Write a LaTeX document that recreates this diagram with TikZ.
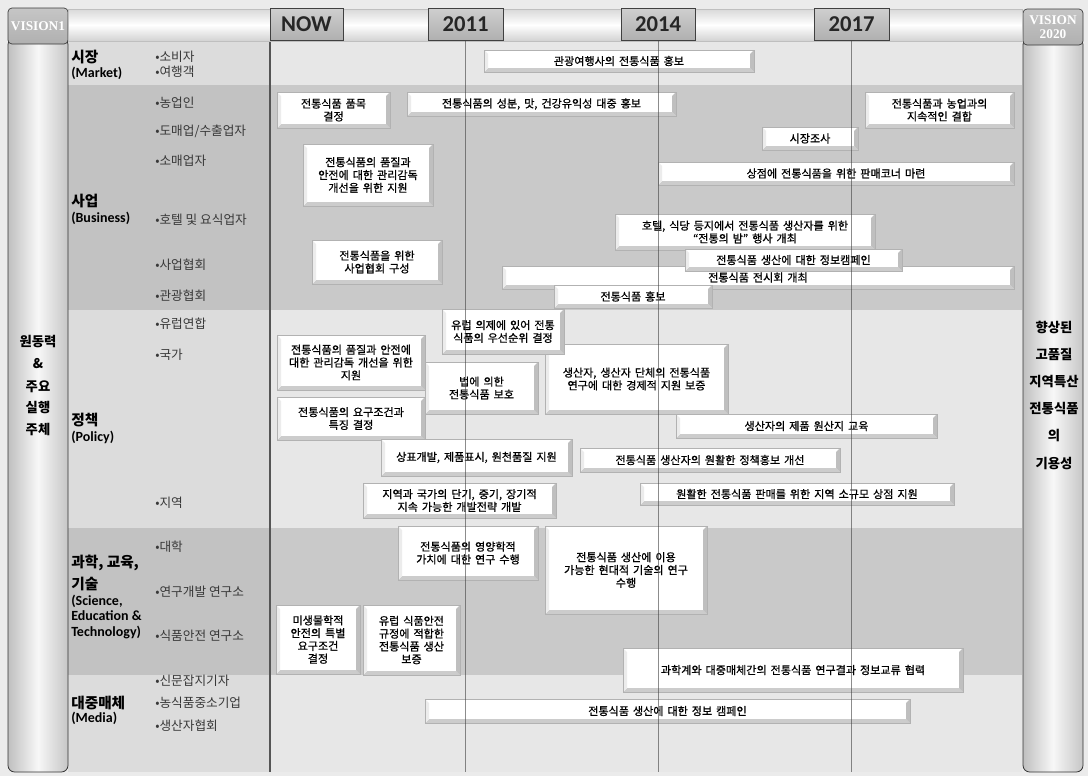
\documentclass[tikz,border=0pt]{standalone}
\usepackage{fontspec}
\setmainfont{Noto Sans CJK KR}
\newfontfamily\kr{Noto Sans CJK KR}
\newfontfamily\krb[FakeBold=0.9,WordSpace=1.6]{Noto Sans CJK KR}
\newfontfamily\en{Carlito}
\newfontfamily\vs{Liberation Serif}
\usetikzlibrary{calc}
\definecolor{canvas}{HTML}{EBEBEB}
\definecolor{lchart}{HTML}{E7E7E7}
\definecolor{lcat}{HTML}{DCDCDC}
\definecolor{dchart}{HTML}{C9C9C9}
\definecolor{dcat}{HTML}{C2C2C2}
\definecolor{edge}{HTML}{555555}
\newcommand\bx[6]{\node[box, minimum width={(#4-#2)*0.75pt}, minimum height={(#5-#3)*0.75pt}] (#1) at ({(#2+#4)/2},{(#3+#5)/2}) {#6};}
\newcommand\yr[6]{\node[yearbox, minimum width={(#4-#2)*0.75pt}, minimum height={(#5-#3)*0.75pt}] (#1) at ({(#2+#4)/2},{(#3+#5)/2}) {#6};}
\begin{document}
\begin{tikzpicture}[x=0.75pt,y=-0.75pt,
  box/.style={draw=gray!60, line width=0.6pt, fill=white, inner sep=0pt, align=center,
    font=\krb\fontsize{8.3}{9.6}\selectfont, text=black,
    path picture={
      \fill[gray!40] (path picture bounding box.south west) -- (path picture bounding box.south east)
        -- ([shift={(-3pt,3pt)}]path picture bounding box.south east) -- ([shift={(3pt,3pt)}]path picture bounding box.south west) -- cycle;
      \fill[gray!50] (path picture bounding box.south east) -- (path picture bounding box.north east)
        -- ([shift={(-3pt,-3pt)}]path picture bounding box.north east) -- ([shift={(-3pt,3pt)}]path picture bounding box.south east) -- cycle;
      \fill[gray!15] (path picture bounding box.south west) -- (path picture bounding box.north west)
        -- ([shift={(3pt,-3pt)}]path picture bounding box.north west) -- ([shift={(3pt,3pt)}]path picture bounding box.south west) -- cycle;
    }},
  yearbox/.style={draw=gray!50!black, line width=0.5pt, top color=gray!38, bottom color=gray!62, inner sep=0pt,
    font=\en\bfseries\fontsize{17}{17}\selectfont, text=black!85},
  vishead/.style={draw=gray!45!black, line width=0.5pt, top color=gray!45, bottom color=gray!62, rounded corners=3pt,
    inner sep=0pt, align=center, font=\vs\bfseries\fontsize{10}{11}\selectfont, text=white},
  bul/.style={font=\kr\fontsize{9.5}{10}\selectfont, text=black!78, inner sep=0pt, anchor=west},
  catk/.style={font=\kr\bfseries\fontsize{11}{12}\selectfont, text=black, inner sep=0pt, anchor=west},
  cate/.style={font=\en\bfseries\fontsize{10.5}{12}\selectfont, text=black, inner sep=0pt, anchor=west},
  side/.style={font=\kr\bfseries\fontsize{10}{11}\selectfont, text=black, inner sep=0pt},
  tline/.style={draw=black!75, line width=0.6pt, draw opacity=0.6},
  bar/.style={left color=gray!50, right color=gray!45, middle color=gray!6, draw=gray!40!black, line width=0.6pt, rounded corners=5pt}
]
\useasboundingbox (0,0) rectangle (1088,776);
\fill[canvas] (0,0) rectangle (1088,776);
% bands
\fill[lchart] (270,42) rectangle (1022,85);
\fill[lcat] (68,42) rectangle (270,85);
\fill[dchart] (270,85) rectangle (1022,310);
\fill[dcat] (68,85) rectangle (270,310);
\fill[lchart] (270,310) rectangle (1022,528);
\fill[lcat] (68,310) rectangle (270,528);
\fill[dchart] (270,528) rectangle (1022,675);
\fill[dcat] (68,528) rectangle (270,675);
\fill[lchart] (270,675) rectangle (1022,772);
\fill[lcat] (68,675) rectangle (270,772);
\draw[edge, line width=0.8pt] (270,41) -- (270,772);
% side bars
\path[bar] (8,38) rectangle (68,772);
\path[bar] (1023,38) rectangle (1083,772);
\node[vishead, minimum width=45pt, minimum height=27pt] (v1) at (38,26) {VISION1};
\node[vishead, minimum width=45pt, minimum height=27pt] (v2) at (1053,27) {VISION\\2020};
% top bar
\shade[top color=gray!30, bottom color=gray!35, middle color=white, draw=gray!50, line width=0.4pt] (68,9) rectangle (1022,41);
\yr{ynow}{270}{8}{343}{40}{NOW}
\yr{y2011}{428}{8}{503}{40}{2011}
\yr{y2014}{621}{8}{695}{40}{2014}
\yr{y2017}{814}{8}{889}{40}{2017}
\coordinate (bot) at (0,772);
% side texts
\node[side] (s1) at (38,342) {원동력};
\node[side] (s2) at (38,364) {\&};
\node[side] (s3) at (38,387) {주요};
\node[side] (s4) at (38,408) {실행};
\node[side] (s5) at (38,430) {주체};
\node[side] (r1) at (1054,327) {향상된};
\node[side] (r2) at (1054,354) {고품질};
\node[side] (r3) at (1054,382) {지역특산};
\node[side] (r4) at (1054,409) {전통식품};
\node[side] (r5) at (1054,436) {의};
\node[side] (r6) at (1054,464) {기용성};
% categories
\node[catk] (k1) at (71,57) {시장};
\node[cate] (e1) at (71,73) {(Market)};
\node[catk] (k2) at (71,201) {사업};
\node[cate] (e2) at (71,218) {(Business)};
\node[catk] (k3) at (71,420) {정책};
\node[cate] (e3) at (71,437) {(Policy)};
\node[catk] (k4) at (71,563) {과학, 교육,};
\node[catk] (k4b) at (71,584) {기술};
\node[cate] (e4a) at (71,601) {(Science,};
\node[cate] (e4b) at (71,616) {Education \&};
\node[cate] (e4c) at (71,632) {Technology)};
\node[catk] (k5) at (71,703) {대중매체};
\node[cate] (e5) at (71,718) {(Media)};
% bullets
\node[bul] (b1) at (155,57) {•소비자};
\node[bul] (b2) at (155,72) {•여행객};
\node[bul] (b3) at (155,103) {•농업인};
\node[bul] (b4) at (155,131) {•도매업/수출업자};
\node[bul] (b5) at (155,161) {•소매업자};
\node[bul] (b6) at (155,220) {•호텔 및 요식업자};
\node[bul] (b7) at (155,265) {•사업협회};
\node[bul] (b8) at (155,296) {•관광협회};
\node[bul] (b9) at (155,324) {•유럽연합};
\node[bul] (b10) at (155,355) {•국가};
\node[bul] (b11) at (155,503) {•지역};
\node[bul] (b12) at (155,547) {•대학};
\node[bul] (b13) at (155,592) {•연구개발 연구소};
\node[bul] (b14) at (155,636) {•식품안전 연구소};
\node[bul] (b15) at (155,681) {•신문잡지기자};
\node[bul] (b16) at (155,703) {•농식품중소기업};
\node[bul] (b17) at (155,726) {•생산자협회};
% boxes
\bx{a1}{484}{50}{754}{72}{관광여행사의 전통식품 홍보}
\bx{a2}{277}{92}{390}{128}{전통식품 품목\\결정}
\bx{a3}{407}{92}{676}{116}{전통식품의 성분, 맛, 건강유익성 대중 홍보}
\bx{a4}{865}{92}{1014}{128}{전통식품과 농업과의\\지속적인 결합}
\bx{a5}{762}{127}{858}{150}{시장조사}
\bx{a6}{303}{144}{433}{206}{전통식품의 품질과\\안전에 대한 관리감독\\개선을 위한 지원}
\bx{a7}{658}{162}{1014}{185}{상점에 전통식품을 위한 판매코너 마련}
\bx{a8}{615}{214}{875}{250}{호텔, 식당 등지에서 전통식품 생산자를 위한\\“전통의 밤” 행사 개최}
\bx{a9}{312}{240}{442}{284}{전통식품을 위한\\사업협회 구성}
\bx{a11}{502}{266}{1014}{289}{전통식품 전시회 개최}
\bx{a10}{685}{249}{902}{271}{전통식품 생산에 대한 정보캠페인}
\bx{a12}{554}{285}{712}{308}{전통식품 홍보}
\bx{a16}{545}{344}{728}{414}{생산자, 생산자 단체의 전통식품\\연구에 대한 경제적 지원 보증}
\bx{a13}{442}{309}{564}{354}{유럽 의제에 있어 전통\\식품의 우선순위 결정}
\bx{a14}{277}{335}{425}{390}{전통식품의 품질과 안전에\\대한 관리감독 개선을 위한\\지원}
\bx{a15}{425}{362}{538}{414}{법에 의한\\전통식품 보호}
\bx{a17}{277}{397}{425}{440}{전통식품의 요구조건과\\특징 결정}
\bx{a18}{676}{414}{937}{438}{생산자의 제품 원산지 교육}
\bx{a19}{381}{439}{572}{476}{상표개발, 제품표시, 원천품질 지원}
\bx{a20}{580}{448}{840}{472}{전통식품 생산자의 원활한 정책홍보 개선}
\bx{a21}{363}{483}{556}{518}{지역과 국가의 단기, 중기, 장기적\\지속 가능한 개발전략 개발}
\bx{a22}{640}{483}{954}{505}{원활한 전통식품 판매를 위한 지역 소규모 상점 지원}
\bx{a23}{398}{526}{538}{580}{전통식품의 영양학적\\가치에 대한 연구 수행}
\bx{a24}{545}{526}{707}{614}{전통식품 생산에 이용\\가능한 현대적 기술의 연구\\수행}
\bx{a25}{276}{605}{360}{674}{미생물학적\\안전의 특별\\요구조건\\결정}
\bx{a26}{363}{605}{460}{675}{유럽 식품안전\\규정에 적합한\\전통식품 생산\\보증}
\bx{a27}{623}{648}{963}{692}{과학계와 대중매체간의 전통식품 연구결과 정보교류 협력}
\bx{a28}{425}{699}{910}{723}{전통식품 생산에 대한 정보 캠페인}
% timeline lines
\draw[tline] (y2011.south) -- (y2011.south |- bot);
\draw[tline] (y2014.south) -- (y2014.south |- bot);
\draw[tline] (y2017.south) -- (y2017.south |- bot);
\end{tikzpicture}
\end{document}
